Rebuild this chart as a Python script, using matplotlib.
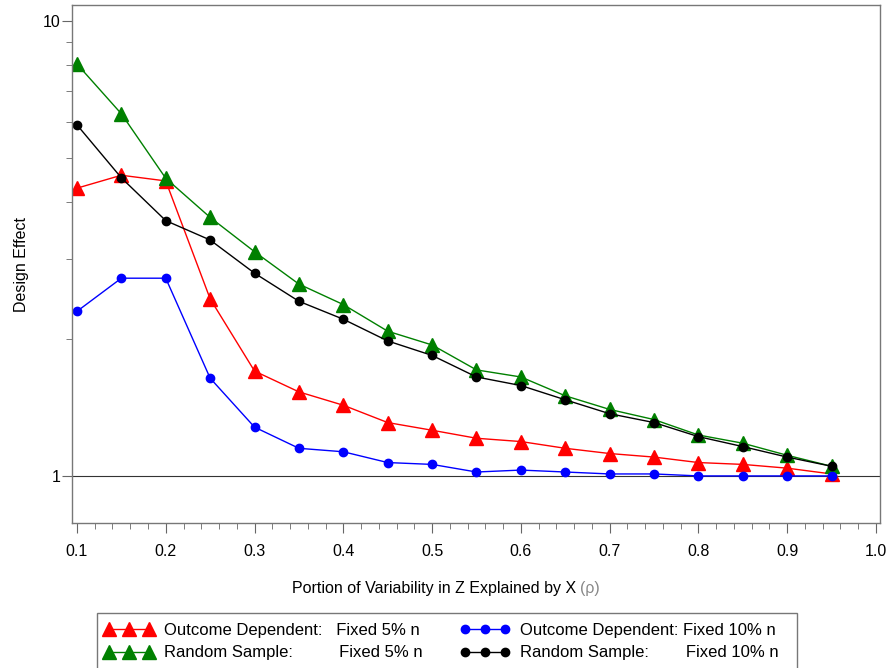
import matplotlib
matplotlib.use("Agg")
import matplotlib.pyplot as plt
from matplotlib.patches import Rectangle
from matplotlib.ticker import FixedLocator, MultipleLocator, NullFormatter

plt.rcParams['font.family'] = ['Liberation Sans', 'DejaVu Sans']

# portion of variability (rho)
rho = [0.10, 0.15, 0.20, 0.25, 0.30, 0.35, 0.40, 0.45, 0.50,
       0.55, 0.60, 0.65, 0.70, 0.75, 0.80, 0.85, 0.90, 0.95]

# design effect per design
od_5 = [4.29, 4.58, 4.45, 2.45, 1.70, 1.53, 1.43, 1.31, 1.26,
        1.21, 1.19, 1.15, 1.12, 1.10, 1.07, 1.06, 1.04, 1.01]
rs_5 = [8.04, 6.25, 4.51, 3.70, 3.11, 2.64, 2.38, 2.08, 1.94,
        1.71, 1.65, 1.50, 1.40, 1.33, 1.23, 1.18, 1.11, 1.05]
od_10 = [2.30, 2.72, 2.72, 1.64, 1.28, 1.15, 1.13, 1.07, 1.06,
         1.02, 1.03, 1.02, 1.01, 1.01, 1.00, 1.00, 1.00, 1.00]
rs_10 = [5.91, 4.52, 3.64, 3.30, 2.79, 2.42, 2.21, 1.98, 1.84,
         1.65, 1.58, 1.47, 1.37, 1.31, 1.22, 1.16, 1.10, 1.05]

x_ticks = [0.1, 0.2, 0.3, 0.4, 0.5, 0.6, 0.7, 0.8, 0.9, 1.0]
x_labels = ['0.1', '0.2', '0.3', '0.4', '0.5', '0.6', '0.7', '0.8', '0.9', '1.0']

fig = plt.figure(figsize=(8.88, 6.68), dpi=100)
ax = fig.add_axes([72/888, 1 - 523/668, 808/888, 518/668])

ax.axhline(1, color='#333333', linewidth=0.8, zorder=1)

h1, = ax.plot(rho, od_5, color='red', marker='^', markersize=10, linewidth=1,
              label='Outcome Dependent:   Fixed 5% n')
h2, = ax.plot(rho, rs_5, color='green', marker='^', markersize=10, linewidth=1,
              label='Random Sample:          Fixed 5% n')
h3, = ax.plot(rho, od_10, color='blue', marker='o', markersize=6, linewidth=1,
              label='Outcome Dependent: Fixed 10% n')
h4, = ax.plot(rho, rs_10, color='black', marker='o', markersize=6, linewidth=1,
              label='Random Sample:        Fixed 10% n')

ax.set_yscale('log')
ax.set_ylim(0.788, 10.84)
ax.set_xlim(0.0944, 1.0045)

ax.yaxis.set_major_locator(FixedLocator([1, 10]))
ax.yaxis.set_minor_locator(FixedLocator([2, 3, 4, 5, 6, 7, 8, 9]))
ax.yaxis.set_minor_formatter(NullFormatter())
ax.set_yticklabels(['1', '10'])
ax.xaxis.set_minor_locator(MultipleLocator(0.02))
ax.set_xticks(x_ticks)
ax.set_xticklabels(x_labels)

ax.tick_params(axis='both', which='major', direction='out', length=7,
               color='#666666', labelsize=11.5, pad=1)
ax.tick_params(axis='both', which='minor', direction='out', length=4, color='#666666')
ax.tick_params(axis='x', which='both', pad=8)

for s in ax.spines.values():
    s.set_color('#777777')
    s.set_linewidth(1)

ax.set_ylabel('Design Effect', fontsize=11.5, labelpad=10)
ax.set_xlabel('Portion of Variability in Z Explained by X', fontsize=11.5, va='top')
ax.xaxis.set_label_coords((434 - 72) / 808, -(581 - 523) / 518)
# rho drawn lighter, as in the original
ax.annotate('(ρ)', xy=(1, 0), xycoords=ax.xaxis.label, xytext=(3, 0),
            textcoords='offset points', ha='left', va='bottom',
            fontsize=11.5, color='#888888')

# legend frame runs off the bottom edge like the original
fig.patches.append(Rectangle((97/888, -0.02), 700/888, (668 - 613)/668 + 0.02,
                             transform=fig.transFigure, fill=False,
                             edgecolor='#777777', linewidth=1))
leg = fig.legend(handles=[h1, h2, h3, h4], loc='upper left', ncol=2,
                 bbox_to_anchor=(104/888, 1 - 623/668), borderaxespad=0,
                 numpoints=3, handlelength=3.0, fontsize=12, frameon=False,
                 borderpad=0, labelspacing=0.45, columnspacing=2.25,
                 handletextpad=0.6)

fig.savefig('out.png', dpi=100)
